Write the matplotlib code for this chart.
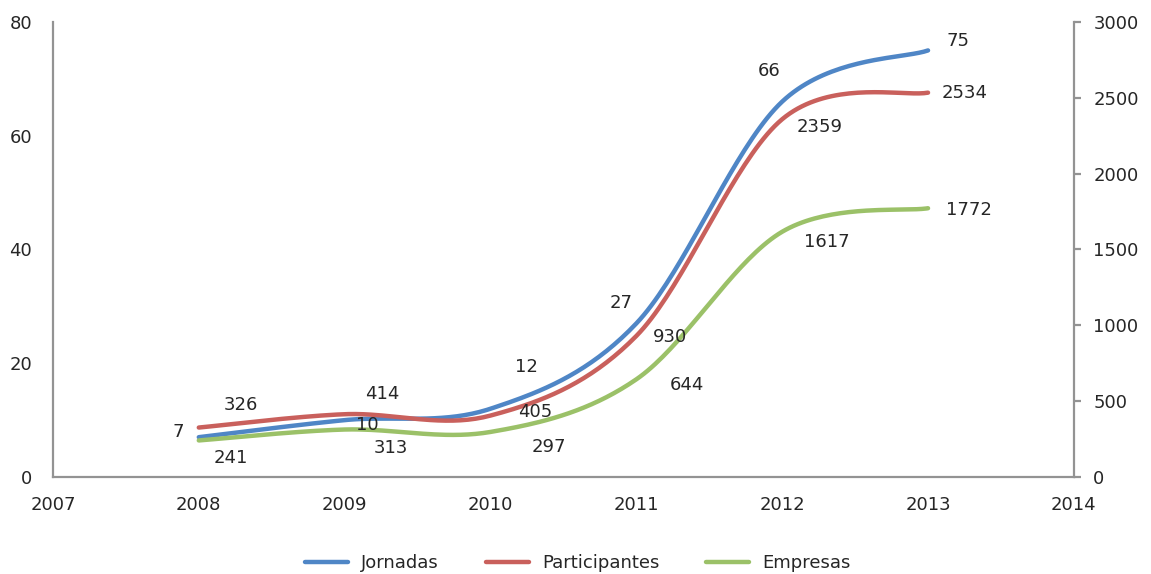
import numpy as np
import matplotlib.pyplot as plt
from matplotlib.lines import Line2D

# datos
anios = [2008, 2009, 2010, 2011, 2012, 2013]
jornadas = [7, 10, 12, 27, 66, 75]
participantes = [326, 414, 405, 930, 2359, 2534]
empresas = [241, 313, 297, 644, 1617, 1772]

# desplazamiento de las etiquetas (pixeles)
off_jor = [(-21, 5), (23, -5), (36, 42), (-15, 20), (-13, 31), (30, 9)]
off_par = [(42, 23), (38, 20), (45, 4), (34, -1), (37, -8), (37, 0)]
off_emp = [(32, -18), (46, -18), (58, -15), (51, -6), (45, -10), (41, -2)]

c_azul = '#4F86C6'
c_rojo = '#C9605C'
c_verde = '#9BC168'
c_eje = '#939393'
c_txt = '#262626'


def suavizar(x, y, n=40):
    # curva tipo Catmull-Rom (como el suavizado de Excel)
    x = np.asarray(x, float)
    y = np.asarray(y, float)
    px = np.concatenate([[x[0]], x, [x[-1]]])
    py = np.concatenate([[y[0]], y, [y[-1]]])
    xs, ys = [], []
    t = np.linspace(0, 1, n)
    for i in range(1, len(px) - 2):
        p0 = np.array([px[i], py[i]])
        p3 = np.array([px[i + 1], py[i + 1]])
        c1 = p0 + (np.array([px[i + 1], py[i + 1]]) - np.array([px[i - 1], py[i - 1]])) / 6
        c2 = p3 - (np.array([px[i + 2], py[i + 2]]) - np.array([px[i], py[i]])) / 6
        b = ((1 - t) ** 3)[:, None] * p0 + (3 * (1 - t) ** 2 * t)[:, None] * c1 \
            + (3 * (1 - t) * t ** 2)[:, None] * c2 + (t ** 3)[:, None] * p3
        xs.extend(b[:, 0])
        ys.extend(b[:, 1])
    return xs, ys


plt.rcParams['font.family'] = 'DejaVu Sans'
fig = plt.figure(figsize=(11.51, 5.74), dpi=100)
ax = fig.add_axes([0.046, 0.169, 0.887, 0.7927])
ax2 = ax.twinx()

ax.set_xlim(2007, 2014)
ax.set_ylim(0, 80)
ax2.set_ylim(0, 3000)

xj, yj = suavizar(anios, jornadas)
ax.plot(xj, yj, color=c_azul, lw=3.2, solid_capstyle='round', zorder=4)
xp, yp = suavizar(anios, participantes)
ax2.plot(xp, yp, color=c_rojo, lw=3.2, solid_capstyle='round', zorder=3)
xe, ye = suavizar(anios, empresas)
ax2.plot(xe, ye, color=c_verde, lw=3.2, solid_capstyle='round', zorder=3)

# todas las etiquetas en ax2 para que queden encima de las lineas
for a, v, o in zip(anios, jornadas, off_jor):
    ax2.annotate(str(v), (a, v), xycoords=ax.transData, xytext=o, textcoords='offset pixels',
                 ha='center', va='center', fontsize=13, color=c_txt, zorder=10)
for a, v, o in zip(anios, participantes, off_par):
    ax2.annotate(str(v), (a, v), xytext=o, textcoords='offset pixels',
                 ha='center', va='center', fontsize=13, color=c_txt, zorder=10)
for a, v, o in zip(anios, empresas, off_emp):
    ax2.annotate(str(v), (a, v), xytext=o, textcoords='offset pixels',
                 ha='center', va='center', fontsize=13, color=c_txt, zorder=10)

ax.set_xticks(range(2007, 2015))
ax.set_yticks(range(0, 81, 20))
ax2.set_yticks(range(0, 3001, 500))

for a in (ax, ax2):
    for s in a.spines.values():
        s.set_visible(False)
ax.spines['left'].set_visible(True)
ax.spines['bottom'].set_visible(True)
ax2.spines['right'].set_visible(True)
for s in (ax.spines['left'], ax.spines['bottom'], ax2.spines['right']):
    s.set_color(c_eje)
    s.set_linewidth(1.6)

ax.tick_params(axis='y', length=0, pad=15, labelsize=13, labelcolor=c_txt)
ax.tick_params(axis='x', length=0, pad=14, labelsize=13, labelcolor=c_txt)
ax2.tick_params(axis='y', length=5, width=1.6, color=c_eje, pad=9,
                labelsize=13, labelcolor=c_txt)

handles = [Line2D([], [], color=c, lw=3.2, solid_capstyle='round') for c in (c_azul, c_rojo, c_verde)]
fig.legend(handles, ['Jornadas', 'Participantes', 'Empresas'], loc='center',
           bbox_to_anchor=(0.502, 0.019), ncol=3, frameon=False, fontsize=13,
           handlelength=2.4, columnspacing=2.6, handletextpad=0.7,
           labelcolor=c_txt)

fig.savefig('out.png', dpi=100)
